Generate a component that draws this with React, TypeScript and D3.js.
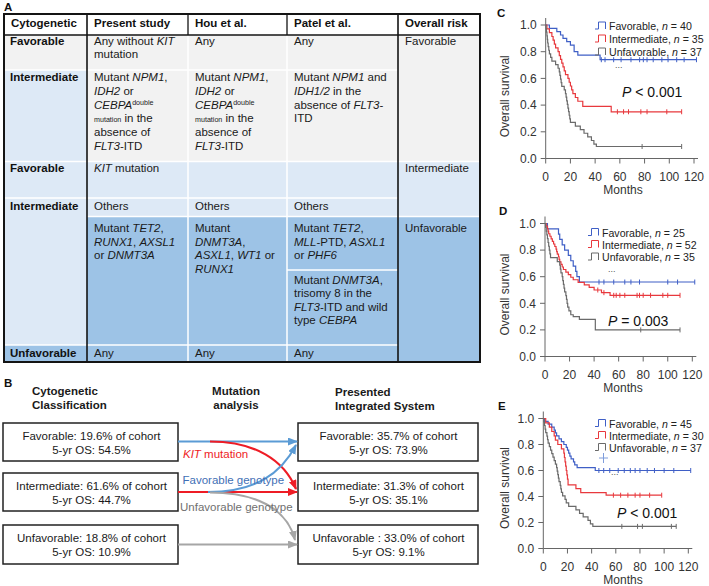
import React from 'react';
import * as d3 from 'd3';

const FONT = '"Liberation Sans", Arial, Helvetica, sans-serif';

// ---------- Panel A: table ----------
const tableHeader = ['Cytogenetic', 'Present study', 'Hou et al.', 'Patel et al.', 'Overall risk'];
const cytogeneticRows = ['Favorable', 'Intermediate', 'Favorable', 'Intermediate', 'Unfavorable'];
const presentStudy = [
  ['Any without *KIT*', 'mutation'],
  ['Mutant *NPM1*,', '*IDH2* or', '*CEBPA*^double^', '~mutation~ in the', 'absence of', '*FLT3*-ITD'],
  ['*KIT* mutation'],
  ['Others'],
  ['Mutant *TET2*,', '*RUNX1*, *AXSL1*', 'or *DNMT3A*'],
  ['Any'],
];
const houEtAl = [
  ['Any'],
  ['Mutant *NPM1*,', '*IDH2* or', '*CEBPA*^double^', '~mutation~ in the', 'absence of', '*FLT3*-ITD'],
  [],
  ['Others'],
  ['Mutant', '*DNMT3A*,', '*ASXL1*, *WT1* or', '*RUNX1*'],
  ['Any'],
];
const patelEtAl = [
  ['Any'],
  ['Mutant *NPM1* and', '*IDH1/2* in the', 'absence of *FLT3*-', 'ITD'],
  [],
  ['Others'],
  ['Mutant *TET2*,', '*MLL*-PTD, *ASXL1*', 'or *PHF6*'],
  ['Any'],
];
const patelExtra = ['Mutant *DNMT3A*,', 'trisomy 8 in the', '*FLT3*-ITD and wild', 'type *CEBPA*'];
const overallRisk = ['Favorable', 'Intermediate', 'Unfavorable'];

// ---------- Panel B: flow ----------
const panelBHeaders = [['Cytogenetic', 'Classification'], ['Mutation', 'analysis'], ['Presented', 'Integrated System']];
const cytoBoxes = [
  ['Favorable: 19.6% of cohort', '5-yr OS: 54.5%'],
  ['Intermediate: 61.6% of cohort', '5-yr OS: 44.7%'],
  ['Unfavorable: 18.8% of cohort', '5-yr OS: 10.9%'],
];
const integratedBoxes = [
  ['Favorable: 35.7% of cohort', '5-yr OS: 73.9%'],
  ['Intermediate: 31.3% of cohort', '5-yr OS: 35.1%'],
  ['Unfavorable : 33.0% of cohort', '5-yr OS: 9.1%'],
];
const flowLabels = ['*KIT* mutation', 'Favorable genotype', 'Unfavorable genotype'];

// ---------- Panels C-E: Kaplan-Meier ----------
const kmGroups = ['Favorable', 'Intermediate', 'Unfavorable'];
const monthTicks = [0, 20, 40, 60, 80, 100, 120];
const survTicks = [0, 0.2, 0.4, 0.6, 0.8, 1.0];
const kmPanelLabels = ['C', 'D', 'E'];
const pValues = ['< 0.001', '= 0.003', '< 0.001'];

const cN = [40, 35, 37];
const cFavT = [3, 9, 12, 14, 17, 20, 23, 26, 44];
const cFavS = [0.975, 0.95, 0.925, 0.9, 0.875, 0.85, 0.8, 0.775, 0.74];
const cFavCens = [45, 48, 55, 61, 69, 76, 79, 82, 87, 94, 99, 106, 112, 122];
const cIntT = [1, 3, 5, 6, 7, 8, 10, 11, 12, 13, 14, 15, 16, 18, 19, 20, 21, 22, 24, 26, 30, 53];
const cIntS = [0.971, 0.943, 0.914, 0.886, 0.857, 0.829, 0.8, 0.771, 0.743, 0.714, 0.686, 0.657, 0.629, 0.6, 0.571, 0.543, 0.514, 0.486, 0.457, 0.429, 0.39, 0.35];
const cIntCens = [58, 63, 67, 77, 82, 98, 110];
const cUnfT = [0.3, 0.6, 1, 1.3, 1.6, 2, 2.5, 3, 4, 5, 8, 10, 11, 11.5, 12, 12.5, 13, 15, 16, 16.5, 17, 17.5, 18, 18.5, 19, 19.5, 20, 24, 28, 31, 34, 37, 39, 41];
const cUnfS = [0.973, 0.946, 0.919, 0.892, 0.865, 0.838, 0.811, 0.784, 0.757, 0.73, 0.703, 0.676, 0.649, 0.622, 0.595, 0.568, 0.541, 0.514, 0.486, 0.459, 0.432, 0.405, 0.378, 0.351, 0.324, 0.297, 0.27, 0.243, 0.216, 0.189, 0.162, 0.135, 0.108, 0.09];
const cUnfCens = [78, 110];

const dN = [25, 52, 35];
const dFavT = [2, 11, 12, 14, 16, 19, 21, 23, 25, 26, 28];
const dFavS = [0.96, 0.92, 0.88, 0.84, 0.8, 0.76, 0.72, 0.68, 0.64, 0.6, 0.56];
const dFavCens = [44, 48, 56, 65, 70, 77, 100, 108, 122];
const dIntT = [1, 2, 2.5, 3, 4, 5, 6, 7, 8, 9, 9.5, 10, 11, 11.5, 12, 13, 14, 15, 17, 19, 21, 23, 27, 32, 36, 40, 46, 53];
const dIntS = [0.981, 0.962, 0.942, 0.923, 0.904, 0.885, 0.865, 0.846, 0.827, 0.808, 0.788, 0.769, 0.75, 0.731, 0.712, 0.692, 0.673, 0.654, 0.635, 0.615, 0.596, 0.577, 0.558, 0.538, 0.519, 0.5, 0.48, 0.46];
const dIntCens = [43, 48, 56, 58, 61, 65, 75, 77, 80, 86, 96, 100, 110];
const dUnfT = [0.5, 1, 1.5, 2, 2.5, 3, 3.5, 4, 4.5, 10, 12, 12.5, 13, 14, 14.5, 15, 15.5, 16, 17, 17.5, 18, 18.5, 19.5, 21, 23, 28, 41];
const dUnfS = [0.971, 0.943, 0.914, 0.886, 0.857, 0.829, 0.8, 0.771, 0.743, 0.714, 0.686, 0.657, 0.629, 0.6, 0.571, 0.543, 0.514, 0.486, 0.457, 0.429, 0.4, 0.371, 0.343, 0.314, 0.3, 0.279, 0.2];
const dUnfCens = [78, 110];

const eN = [45, 30, 37];
const eFavT = [1, 4, 7, 9, 10, 11, 13, 15, 17, 19, 20, 21, 22, 23, 25, 26, 28, 43];
const eFavS = [0.978, 0.956, 0.933, 0.911, 0.889, 0.867, 0.844, 0.822, 0.8, 0.778, 0.756, 0.733, 0.711, 0.689, 0.667, 0.644, 0.622, 0.6];
const eFavCens = [46, 50, 55, 62, 67, 72, 76, 80, 86, 92, 100, 108, 122];
const eIntT = [2, 5, 7, 9, 10, 12, 15, 17, 17.5, 18, 18.5, 19, 19.5, 20, 20.5, 27, 31, 52];
const eIntS = [0.967, 0.933, 0.9, 0.867, 0.833, 0.8, 0.767, 0.733, 0.7, 0.667, 0.633, 0.6, 0.567, 0.533, 0.49, 0.46, 0.43, 0.41];
const eIntCens = [58, 64, 70, 76, 80, 88, 98];
const eUnfT = [0.5, 1, 1.5, 2, 3, 3.5, 4, 5, 6, 7, 8, 9, 10, 11, 11.5, 12, 12.5, 13, 14, 14.5, 15, 16, 18, 19, 21, 27, 30, 33, 37, 39, 41];
const eUnfS = [0.973, 0.946, 0.919, 0.892, 0.865, 0.838, 0.811, 0.784, 0.757, 0.73, 0.703, 0.676, 0.649, 0.622, 0.595, 0.568, 0.541, 0.514, 0.486, 0.459, 0.432, 0.405, 0.378, 0.351, 0.324, 0.297, 0.27, 0.243, 0.216, 0.189, 0.17];
const eUnfCens = [65, 78, 82, 106, 110];

// ---------- helpers ----------
type Seg = { t: string; italic: boolean; mode: string };
function parseRich(s: string): Seg[] {
  const out: Seg[] = [];
  let italic = false;
  let mode = '';
  let buf = '';
  const flush = () => {
    if (buf) out.push({ t: buf, italic, mode });
    buf = '';
  };
  for (const ch of s) {
    if (ch === '*') { flush(); italic = !italic; }
    else if (ch === '^') { flush(); mode = mode === 'sup' ? '' : 'sup'; }
    else if (ch === '~') { flush(); mode = mode === 'sub' ? '' : 'sub'; }
    else buf += ch;
  }
  flush();
  return out;
}

function Rich(props: any) {
  const { x, y, text, size = 11.5, fill = '#1a1a1a', weight, anchor } = props;
  const segs = parseRich(text);
  let cur = 0;
  return (
    <text x={x} y={y} fontSize={size} fill={fill} fontWeight={weight} textAnchor={anchor} style={{ whiteSpace: 'pre' }}>
      {segs.map((s, i) => {
        const r = s.mode === 'sup' ? 3.8 : s.mode === 'sub' ? 0.8 : 0;
        const dy = cur - r;
        cur = r;
        return (
          <tspan key={i} dy={dy !== 0 ? dy : undefined} fontStyle={s.italic ? 'italic' : undefined} fontSize={s.mode ? size * 0.62 : undefined}>
            {s.t}
          </tspan>
        );
      })}
    </text>
  );
}

const KM_COLORS = ['#3f5fc6', '#e8383d', '#6a6a6a'];

function survAt(t: number, times: number[], surv: number[]) {
  let s = 1;
  for (let i = 0; i < times.length; i++) if (times[i] <= t) s = surv[i];
  return s;
}

function KMPanel(props: any) {
  const { lay, series, label, pval } = props;
  const xs = d3.scaleLinear().domain([0, 120]).range(lay.xr);
  const ys = d3.scaleLinear().domain([0, 1]).range(lay.yr);
  const line = d3.line<number[]>().x((d) => xs(d[0])).y((d) => ys(d[1])).curve(d3.curveStepAfter);
  const x0 = xs(0);
  const y0 = ys(0);
  const axisColor = '#666';
  return (
    <g>
      <text x={lay.labelXY[0]} y={lay.labelXY[1]} fontSize={11.5} fontWeight="bold" fill="#111">{label}</text>
      {/* axes */}
      <line x1={x0} x2={x0} y1={y0} y2={ys(1) - 7} stroke={axisColor} strokeWidth={1} />
      <line x1={x0} x2={xs(120) + 4} y1={y0} y2={y0} stroke={axisColor} strokeWidth={1} />
      {survTicks.map((v) => (
        <g key={'y' + v}>
          <line x1={x0 - 5} x2={x0} y1={ys(v)} y2={ys(v)} stroke={axisColor} />
          <text x={x0 - 9} y={ys(v) + 4.3} fontSize={12} textAnchor="end" fill="#333">{v.toFixed(1)}</text>
        </g>
      ))}
      {monthTicks.map((m) => (
        <g key={'x' + m}>
          <line x1={xs(m)} x2={xs(m)} y1={y0} y2={y0 + 5} stroke={axisColor} />
          <text x={xs(m)} y={y0 + 22.5} fontSize={12} textAnchor="middle" fill="#333">{m}</text>
        </g>
      ))}
      <text x={623} y={y0 + 35.5} fontSize={12} textAnchor="middle" fill="#333">Months</text>
      <text transform={`translate(509,${(ys(0) + ys(1)) / 2 + 4.5}) rotate(-90)`} fontSize={12} textAnchor="middle" fill="#333">Overall survival</text>
      {/* curves */}
      {series.map((s: any, i: number) => {
        const pts = [[0, 1], ...s.t.map((t: number, j: number) => [t, s.s[j]]), [s.end, s.s[s.s.length - 1]]];
        return (
          <g key={'s' + i}>
            <path d={line(pts) || ''} fill="none" stroke={KM_COLORS[i]} strokeWidth={1.2} />
            {s.cens.map((c: number, j: number) => {
              const v = survAt(c, s.t, s.s);
              return <line key={j} x1={xs(c)} x2={xs(c)} y1={ys(v) - 2.5} y2={ys(v) + 2.5} stroke={KM_COLORS[i]} strokeWidth={1} />;
            })}
          </g>
        );
      })}
      {/* legend */}
      {series.map((s: any, i: number) => {
        const c = lay.legY[i] - 4;
        const lx = lay.legX;
        return (
          <g key={'l' + i}>
            <path d={`M${lx},${c + 3}H${lx + 3.5}V${c - 4}H${lx + 10.5}V${c + 3}`} fill="none" stroke={KM_COLORS[i]} strokeWidth={1} />
            <text x={lx + 14} y={lay.legY[i]} fontSize={10.6} fill="#222" style={{ whiteSpace: 'pre' }}>
              {kmGroups[i]}, <tspan fontStyle="italic">n</tspan> = {s.n}
            </text>
          </g>
        );
      })}
      <text x={lay.dots[0]} y={lay.dots[1]} fontSize={9} fill="#555">...</text>
      {lay.plus && (
        <g stroke="#7f9ddb" strokeWidth={1}>
          <line x1={lay.plus[0] - 4.5} x2={lay.plus[0] + 4.5} y1={lay.plus[1]} y2={lay.plus[1]} />
          <line x1={lay.plus[0]} x2={lay.plus[0]} y1={lay.plus[1] - 5} y2={lay.plus[1] + 5} />
        </g>
      )}
      <text x={lay.p[0]} y={lay.p[1]} fontSize={14} fill="#111" style={{ whiteSpace: 'pre' }}>
        <tspan fontStyle="italic">P</tspan> {pval}
      </text>
    </g>
  );
}

export default function App() {
  // ----- table layout -----
  const colX = [4, 87, 188, 287, 398, 480];
  const rowY = [14, 35, 70, 161.5, 198, 216.5, 345, 362];
  const patelSplit = 270;
  const rowBase = [45, 81.3, 172, 210, 232.3, 357];
  const GRAY = '#f2f2f2';
  const LB = '#dde9f6';
  const DB = '#9dc3e6';
  const WHITE = '#ffffff';
  const DARK = '#141414';
  const top = (r: number) => rowY[r + 1];
  const bot = (r: number) => rowY[r + 2];

  const cells: { c0: number; c1: number; r0: number; r1: number; fill: string }[] = [
    { c0: 0, c1: 1, r0: 0, r1: 0, fill: GRAY },
    { c0: 0, c1: 1, r0: 1, r1: 1, fill: LB },
    { c0: 0, c1: 1, r0: 2, r1: 2, fill: LB },
    { c0: 0, c1: 1, r0: 3, r1: 4, fill: LB },
    { c0: 0, c1: 1, r0: 5, r1: 5, fill: DB },
    { c0: 1, c1: 4, r0: 0, r1: 1, fill: GRAY },
    { c0: 1, c1: 4, r0: 2, r1: 3, fill: LB },
    { c0: 1, c1: 4, r0: 4, r1: 5, fill: DB },
    { c0: 4, c1: 5, r0: 0, r1: 1, fill: GRAY },
    { c0: 4, c1: 5, r0: 2, r1: 3, fill: LB },
    { c0: 4, c1: 5, r0: 4, r1: 5, fill: DB },
  ];

  const whiteH: [number, number, number][] = [
    [colX[0], colX[1], rowY[2]], [colX[0], colX[1], rowY[3]], [colX[0], colX[1], rowY[4]], [colX[0], colX[1], rowY[6]],
    [colX[1], colX[4], rowY[2]], [colX[1], colX[4], rowY[3]], [colX[1], colX[4], rowY[4]], [colX[1], colX[4], rowY[5]], [colX[1], colX[4], rowY[6]],
    [colX[3], colX[4], patelSplit],
    [colX[4], colX[5], rowY[3]], [colX[4], colX[5], rowY[5]],
  ];

  const LH = 13.4;
  const textCols = [presentStudy, houEtAl, patelEtAl];
  const riskRows = [0, 2, 4];

  // ----- panel B layout -----
  const lbx = [3, 178];
  const rbx = [298, 478];
  const boxY = [[423, 461], [473, 511], [525, 564]];
  const arrowY = [441.5, 492, 544.5];
  const BLUE = '#5b9bd5';
  const RED = '#ee1c25';
  const GREY = '#a6a6a6';

  // ----- KM layouts -----
  const kmLayouts = [
    { xr: [545.7, 694], yr: [158.5, 25], labelXY: [497, 17], legX: 595, legY: [30, 43, 56], dots: [615, 68], p: [622, 97] },
    { xr: [545, 692.3], yr: [356.5, 223.5], labelXY: [499, 215], legX: 588, legY: [236.5, 248.5, 261], dots: [608, 272], p: [608, 325.5] },
    { xr: [543.3, 688.3], yr: [548.5, 418.5], labelXY: [498, 410], legX: 595, legY: [427.5, 439.5, 451.5], dots: [611, 475], p: [617, 517.5], plus: [603.5, 458] },
  ];
  const kmSeries = [
    [
      { t: cFavT, s: cFavS, cens: cFavCens, end: 122, n: cN[0] },
      { t: cIntT, s: cIntS, cens: cIntCens, end: 110, n: cN[1] },
      { t: cUnfT, s: cUnfS, cens: cUnfCens, end: 110, n: cN[2] },
    ],
    [
      { t: dFavT, s: dFavS, cens: dFavCens, end: 122, n: dN[0] },
      { t: dIntT, s: dIntS, cens: dIntCens, end: 110, n: dN[1] },
      { t: dUnfT, s: dUnfS, cens: dUnfCens, end: 110, n: dN[2] },
    ],
    [
      { t: eFavT, s: eFavS, cens: eFavCens, end: 122, n: eN[0] },
      { t: eIntT, s: eIntS, cens: eIntCens, end: 98, n: eN[1] },
      { t: eUnfT, s: eUnfS, cens: eUnfCens, end: 110, n: eN[2] },
    ],
  ];

  return (
    <svg width={709} height={586} style={{ position: 'absolute', left: 0, top: 0, background: '#fff' }} fontFamily={FONT}>
      <defs>
        {[['aBlue', BLUE], ['aRed', RED], ['aGrey', GREY]].map(([id, c]) => (
          <marker key={id} id={id} viewBox="0 0 10 8" refX={9} refY={4} markerWidth={10} markerHeight={8} markerUnits="userSpaceOnUse" orient="auto">
            <path d="M0,0L10,4L0,8z" fill={c} />
          </marker>
        ))}
      </defs>

      {/* ===== Panel A ===== */}
      <text x={4} y={10.5} fontSize={11.5} fontWeight="bold" fill="#111">A</text>
      <rect x={colX[0]} y={rowY[0]} width={colX[5] - colX[0]} height={rowY[1] - rowY[0]} fill="#fff" />
      {cells.map((c, i) => (
        <rect key={i} x={colX[c.c0]} y={top(c.r0)} width={colX[c.c1] - colX[c.c0]} height={bot(c.r1) - top(c.r0)} fill={c.fill} />
      ))}
      {whiteH.map((h, i) => (
        <line key={'wh' + i} x1={h[0]} x2={h[1]} y1={h[2]} y2={h[2]} stroke={WHITE} strokeWidth={1.5} />
      ))}
      {[colX[2], colX[3]].map((x, i) => (
        <line key={'wv' + i} x1={x} x2={x} y1={rowY[1]} y2={rowY[7]} stroke={WHITE} strokeWidth={1.5} />
      ))}
      {/* dark lines */}
      <line x1={colX[0]} x2={colX[5]} y1={rowY[1]} y2={rowY[1]} stroke={DARK} strokeWidth={1.5} />
      {[colX[1], colX[4]].map((x, i) => (
        <line key={'dv' + i} x1={x} x2={x} y1={rowY[0]} y2={rowY[7]} stroke={DARK} strokeWidth={1.6} />
      ))}
      {[colX[2], colX[3]].map((x, i) => (
        <line key={'dh' + i} x1={x} x2={x} y1={rowY[0]} y2={rowY[1]} stroke={DARK} strokeWidth={1.3} />
      ))}
      <rect x={colX[0]} y={rowY[0]} width={colX[5] - colX[0]} height={rowY[7] - rowY[0]} fill="none" stroke={DARK} strokeWidth={2} />

      {tableHeader.map((h, i) => (
        <text key={'h' + i} x={colX[i] + 7} y={27} fontSize={11.5} fontWeight="bold" fill="#111">{h}</text>
      ))}
      {cytogeneticRows.map((t, i) => {
        const r = i < 3 ? i : i === 3 ? 3 : 5;
        return <text key={'cg' + i} x={colX[0] + 6} y={rowBase[r]} fontSize={11.5} fontWeight="bold" fill="#111">{t}</text>;
      })}
      {textCols.map((col, ci) =>
        col.map((lines, r) =>
          lines.map((ln, li) => (
            <Rich key={`t${ci}-${r}-${li}`} x={colX[ci + 1] + 7} y={rowBase[r] + li * (r === 1 ? 13.7 : LH)} text={ln} />
          ))
        )
      )}
      {patelExtra.map((ln, li) => (
        <Rich key={'pe' + li} x={colX[3] + 7} y={284 + li * LH} text={ln} />
      ))}
      {overallRisk.map((t, i) => (
        <text key={'or' + i} x={colX[4] + 7} y={rowBase[riskRows[i]]} fontSize={11.5} fill="#1a1a1a">{t}</text>
      ))}

      {/* ===== Panel B ===== */}
      <text x={4} y={387} fontSize={11.5} fontWeight="bold" fill="#111">B</text>
      {panelBHeaders[0].map((t, i) => (
        <text key={'bh0' + i} x={32} y={395 + i * 13.5} fontSize={11.5} fontWeight="bold" fill="#1a1a1a">{t}</text>
      ))}
      {panelBHeaders[1].map((t, i) => (
        <text key={'bh1' + i} x={236} y={395 + i * 13.5} fontSize={11.5} fontWeight="bold" fill="#1a1a1a" textAnchor="middle">{t}</text>
      ))}
      {panelBHeaders[2].map((t, i) => (
        <text key={'bh2' + i} x={335} y={396 + i * 13.5} fontSize={11.5} fontWeight="bold" fill="#1a1a1a">{t}</text>
      ))}
      {cytoBoxes.map((lines, i) => (
        <g key={'lb' + i}>
          <rect x={lbx[0]} y={boxY[i][0]} width={lbx[1] - lbx[0]} height={boxY[i][1] - boxY[i][0]} fill="#fff" stroke="#222" strokeWidth={1.5} />
          {lines.map((t, j) => (
            <text key={j} x={(lbx[0] + lbx[1]) / 2 + 1} y={boxY[i][0] + 17 + j * 13.8} fontSize={11.5} textAnchor="middle" fill="#1a1a1a">{t}</text>
          ))}
        </g>
      ))}
      {integratedBoxes.map((lines, i) => (
        <g key={'rb' + i}>
          <rect x={rbx[0]} y={boxY[i][0]} width={rbx[1] - rbx[0]} height={boxY[i][1] - boxY[i][0]} fill="#fff" stroke="#222" strokeWidth={1.5} />
          {lines.map((t, j) => (
            <text key={j} x={(rbx[0] + rbx[1]) / 2 + 0.5} y={boxY[i][0] + 17 + j * 13.8} fontSize={11.5} textAnchor="middle" fill="#1a1a1a" style={{ whiteSpace: 'pre' }}>{t}</text>
          ))}
        </g>
      ))}
      {/* arrows */}
      <path d={`M${lbx[1]},${arrowY[0]}H${rbx[0] - 1}`} stroke={BLUE} strokeWidth={2} fill="none" markerEnd="url(#aBlue)" />
      <path d={`M${lbx[1]},${arrowY[1]}H${rbx[0] - 1}`} stroke={RED} strokeWidth={2.2} fill="none" markerEnd="url(#aRed)" />
      <path d={`M${lbx[1]},${arrowY[2]}H${rbx[0] - 1}`} stroke={GREY} strokeWidth={2} fill="none" markerEnd="url(#aGrey)" />
      <path d={`M210,${arrowY[0]}C255,${arrowY[0]} 284,460 296,489`} stroke={RED} strokeWidth={2.2} fill="none" markerEnd="url(#aRed)" />
      <path d={`M208,${arrowY[1]}C255,${arrowY[1]} 281,474 296,445`} stroke={BLUE} strokeWidth={2} fill="none" markerEnd="url(#aBlue)" />
      <path d={`M210,${arrowY[1] + 0.5}C255,${arrowY[1] + 0.5} 287,508 295,540`} stroke={GREY} strokeWidth={2} fill="none" markerEnd="url(#aGrey)" />
      <Rich x={183} y={458} text={flowLabels[0]} fill={RED} />
      <Rich x={182.5} y={484} text={flowLabels[1]} fill="#3f6fb5" />
      <Rich x={180} y={511} text={flowLabels[2]} fill="#707070" />

      {/* ===== Panels C-E ===== */}
      {kmLayouts.map((lay, i) => (
        <KMPanel key={'km' + i} lay={lay} series={kmSeries[i]} label={kmPanelLabels[i]} pval={pValues[i]} />
      ))}
    </svg>
  );
}
